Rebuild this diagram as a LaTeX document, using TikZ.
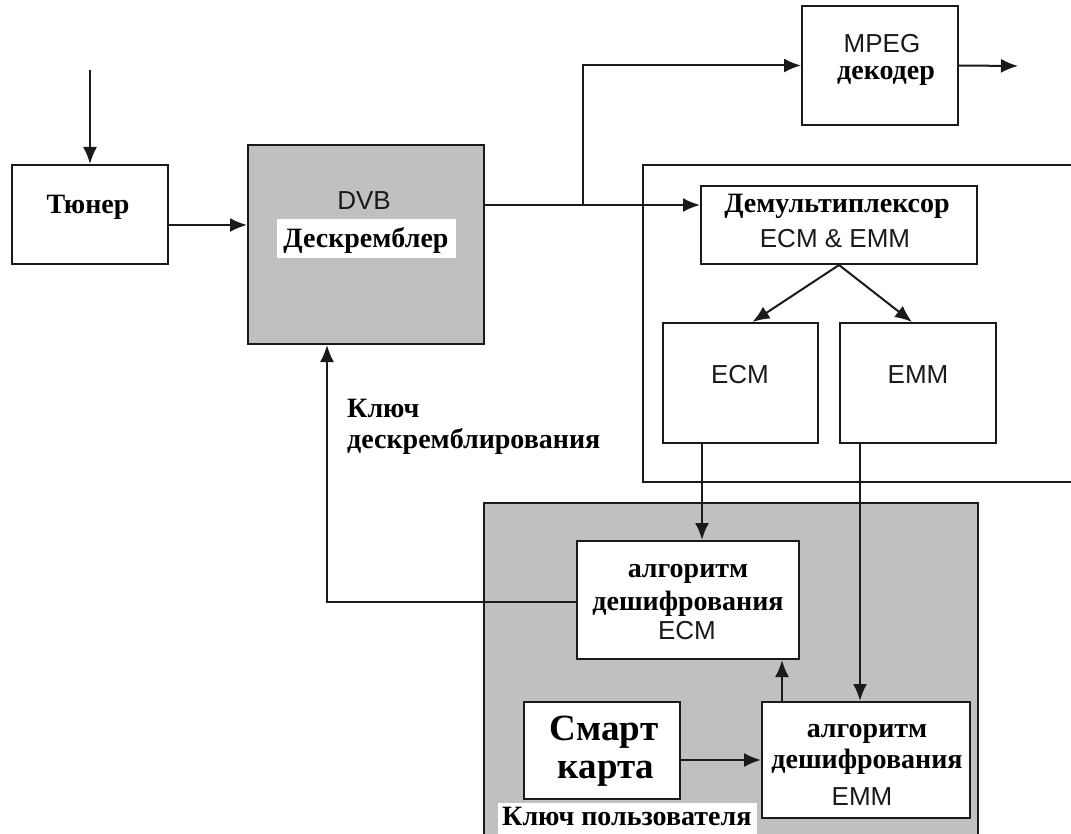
\documentclass[tikz,border=0pt]{standalone}
\usepackage{fontspec}
\setmainfont{Liberation Serif}
\setsansfont{Liberation Sans}
\usetikzlibrary{arrows.meta,fit}

\definecolor{ink}{HTML}{1A1A1A}
\definecolor{panel}{HTML}{C0C0C0}

\tikzset{
  box/.style={draw=ink, line width=2pt, fill=white, inner sep=0pt},
  shaded/.style={box, fill=panel},
  wire/.style={draw=ink, line width=2pt},
  arr/.style={wire, -{Latex[length=17pt,width=14pt]}},
  rt/.style={font=\fontsize{28}{32}\selectfont\bfseries, anchor=base, inner sep=0pt},
  st/.style={font=\fontsize{26}{30}\selectfont\sffamily, text=ink, anchor=base, inner sep=0pt},
}

\begin{document}
\begin{tikzpicture}[x=1pt, y=-1pt]
\clip (0,0) rectangle (1071,834);
\fill[white] (0,0) rectangle (1071,834);

% outer frames
\node[box, fit={(643,165) (1090,482)}] (frame) {};
\node[shaded, fit={(484,503) (978,850)}] (card) {};

% blocks
\node[box, fit={(12,165) (168,264)}] (tuner) {};
\node[shaded, fit={(248,145) (484,344)}] (desc) {};
\node[box, fit={(802,6) (958,125)}] (mpeg) {};
\node[box, fit={(701,186) (977,264)}] (demux) {};
\node[box, fit={(663,323) (818,443)}] (ecm) {};
\node[box, fit={(840,323) (996,443)}] (emm) {};
\node[box, fit={(577,541) (799,659)}] (ecmalg) {};
\node[box, fit={(762,702) (970,818)}] (emmalg) {};
\node[box, fit={(524,702) (680,799)}] (smart) {};

% labels inside the blocks
\node[rt] (tTuner) at (88,214) {Тюнер};
\node[st] (tDvb) at (364,210) {DVB};
\node[fill=white, minimum width=179pt, minimum height=39pt, inner sep=0pt] (descbg) at (366,238.5) {};
\node[rt] (tDesc) at (366,248) {Дескремблер};
\node[st] (tMpeg) at (882,53) {MPEG};
\node[rt] (tDec) at (886,80) {декодер};
\node[rt] (tDemux) at (837,213) {Демультиплексор};
\node[st] (tEE) at (835,248) {ECM \& EMM};
\node[st] (tEcm) at (740,383) {ECM};
\node[st] (tEmm) at (918,383) {EMM};
\node[rt] (tA1) at (688,577) {алгоритм};
\node[rt] (tD1) at (688,610) {дешифрования};
\node[st] (tE1) at (687,639) {ECM};
\node[rt] (tA2) at (867,737) {алгоритм};
\node[rt] (tD2) at (867,768) {дешифрования};
\node[st] (tE2) at (862,805) {EMM};
\node[rt, font=\fontsize{37}{41}\selectfont\bfseries] (tSm) at (604,740) {Смарт};
\node[rt, font=\fontsize{37}{41}\selectfont\bfseries] (tKa) at (606,778) {карта};
\node[fill=white, minimum width=259pt, minimum height=40pt, inner sep=0pt, anchor=north west] (userbg) at (498,803) {};
\node[rt, anchor=base west] (tUser) at (502,825) {Ключ пользователя};
\node[rt, anchor=base west] (tK1) at (347,417) {Ключ};
\node[rt, anchor=base west] (tK2) at (347,448) {дескремблирования};

% route points
\coordinate (tin) at (90,70);
\coordinate (rowA) at (0,225);
\coordinate (j) at (583,205);
\coordinate (mout) at (1018,66);
\coordinate (fb) at (327,602);
\coordinate (vEcm) at (702,0);
\coordinate (vEmm) at (860,0);
\coordinate (vUp) at (782,0);
\coordinate (rowS) at (0,760);

% connectors
\draw[arr] (tin) -- (tin |- tuner.north);
\draw[arr] (rowA -| tuner.east) -- (rowA -| desc.west);
\draw[wire] (j -| desc.east) -- (j);
\draw[arr] (j) -- (j -| demux.west);
\draw[arr] (j) |- (mpeg.west);
\draw[arr] (mpeg.east) -- (mout);
\draw[arr] (demux.south) -- ([xshift=12pt]ecm.north);
\draw[arr] (demux.south) -- ([xshift=-6pt]emm.north);
\draw[arr] (vEcm |- ecm.south) -- (vEcm |- ecmalg.north);
\draw[arr] (vEmm |- emm.south) -- (vEmm |- emmalg.north);
\draw[arr] (vUp |- emmalg.north) -- (vUp |- ecmalg.south);
\draw[arr] (rowS -| smart.east) -- (rowS -| emmalg.west);
\draw[arr] (ecmalg.west |- fb) -- (fb) -- (fb |- desc.south);
\end{tikzpicture}
\end{document}
